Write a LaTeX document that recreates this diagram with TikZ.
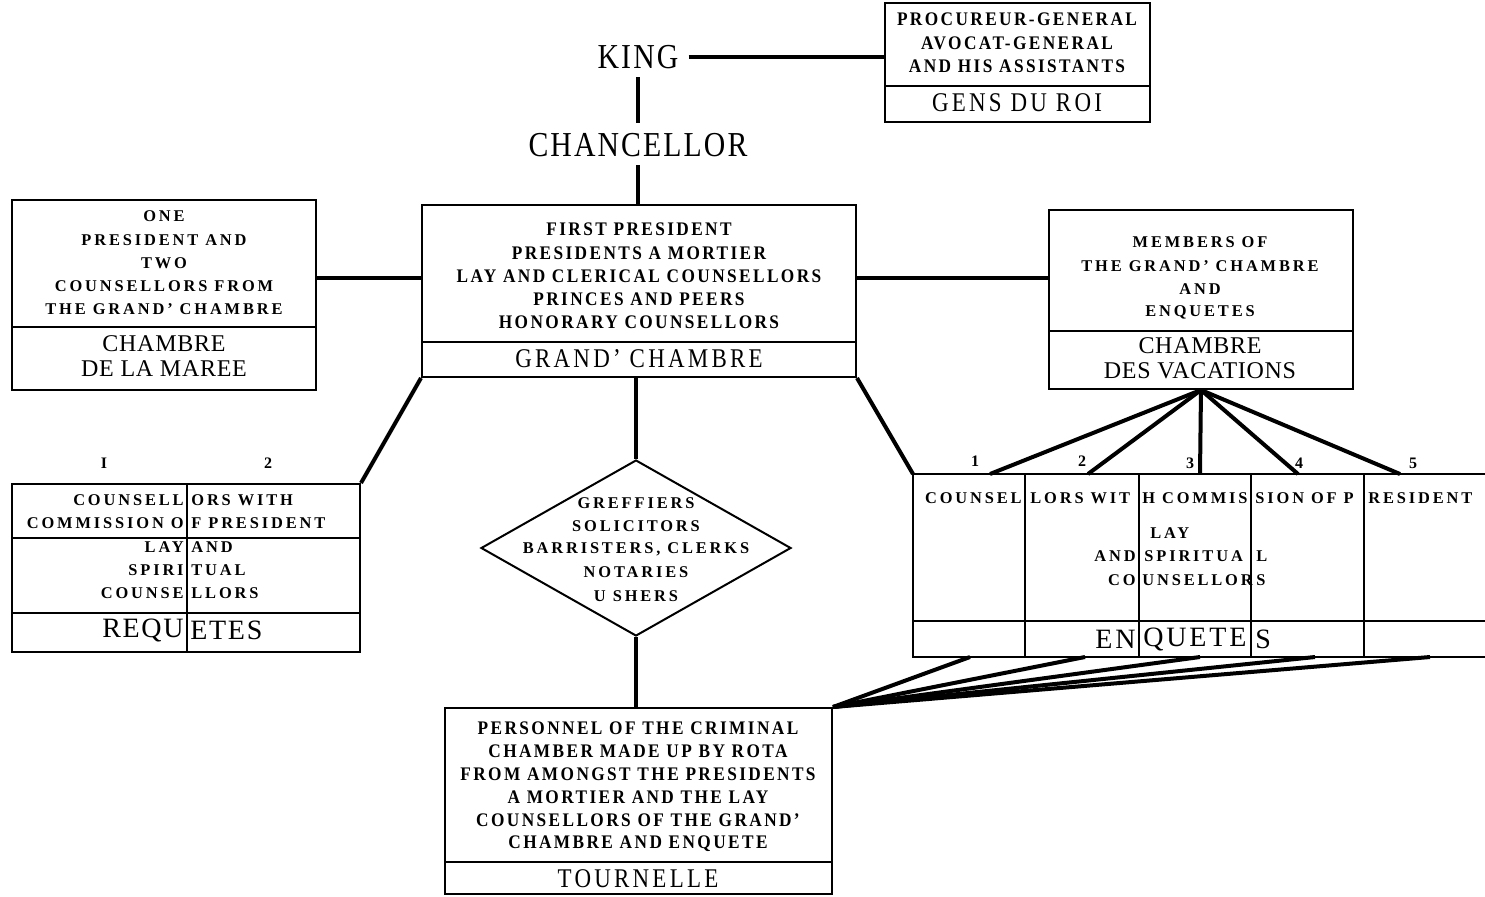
\documentclass[tikz,border=0pt]{standalone}
\usepackage{fontspec}
\setmainfont{Liberation Serif}
\newfontfamily\smf[LetterSpace=17.5]{Liberation Serif}
\newfontfamily\cdf[LetterSpace=12.5,FakeStretch=0.9]{Liberation Serif}
\newfontfamily\bgf[LetterSpace=3]{Liberation Serif}
\newfontfamily\bcf[FakeStretch=0.85,LetterSpace=12]{Liberation Serif}
\newfontfamily\tlf[FakeStretch=0.85,LetterSpace=6]{Liberation Serif}
\newfontfamily\rqf[LetterSpace=6]{Liberation Serif}
\newfontfamily\eqf[LetterSpace=10]{Liberation Serif}
\usetikzlibrary{shapes.geometric,fit}
\begin{document}
\begin{tikzpicture}[x=0.5pt,y=-0.5pt,
  box/.style={draw, line width=1pt, inner sep=0pt},
  divl/.style={line width=1pt},
  conn/.style={line width=2pt},
  sm/.style={inner sep=0pt, font=\smf\bfseries\fontsize{8.2}{9}\selectfont},
  cd/.style={inner sep=0pt, font=\cdf\bfseries\fontsize{9.6}{10}\selectfont},
  big/.style={inner sep=0pt, font=\bgf\fontsize{12}{13}\selectfont},
  bigc/.style={inner sep=0pt, font=\bcf\fontsize{13.5}{14}\selectfont},
  rq/.style={inner sep=0pt, font=\rqf\fontsize{14}{15}\selectfont},
  eq/.style={inner sep=0pt, font=\eqf\fontsize{14}{15}\selectfont},
  ttl/.style={inner sep=0pt, font=\tlf\fontsize{17.5}{18}\selectfont},
  num/.style={inner sep=0pt, font=\bgf\bfseries\fontsize{8}{9}\selectfont},
]
\useasboundingbox (0,0) rectangle (1485,896);

% ---------- King / Chancellor ----------
\node[ttl] (king) at (638,57) {KING};
\node[ttl] (chan) at (638,145) {CHANCELLOR};

% ---------- Gens du roi ----------
\node[box, fit={(885,3) (1150,122)}] (gens) {};
\draw[divl] (885,86) -- (1150,86);
\node[cd] (g1) at (1017,19) {PROCUREUR-GENERAL};
\node[cd] (g2) at (1017,43) {AVOCAT-GENERAL};
\node[cd] (g3) at (1017,66) {AND HIS ASSISTANTS};
\node[bigc] (g4) at (1017,103) {GENS DU ROI};

% ---------- Grand' Chambre ----------
\node[box, fit={(422,205) (856,377)}] (gc) {};
\draw[divl] (422,342) -- (856,342);
\node[cd] (gc1) at (639,229) {FIRST PRESIDENT};
\node[cd] (gc2) at (639,253) {PRESIDENTS A MORTIER};
\node[cd] (gc3) at (639,276) {LAY AND CLERICAL COUNSELLORS};
\node[cd] (gc4) at (639,299) {PRINCES AND PEERS};
\node[cd] (gc5) at (639,322) {HONORARY COUNSELLORS};
\node[bigc] (gc6) at (639,359) {GRAND’ CHAMBRE};

% ---------- Chambre de la Maree ----------
\node[box, fit={(12,200) (316,390)}] (maree) {};
\draw[divl] (12,327) -- (316,327);
\node[sm] (m1) at (164,216) {ONE};
\node[sm] (m2) at (164,240) {PRESIDENT AND};
\node[sm] (m3) at (164,263) {TWO};
\node[sm] (m4) at (164,286) {COUNSELLORS FROM};
\node[sm] (m5) at (164,309) {THE GRAND’ CHAMBRE};
\node[big] (m6) at (164,344) {CHAMBRE};
\node[big] (m7) at (164,369) {DE LA MAREE};

% ---------- Chambre des Vacations ----------
\node[box, fit={(1049,210) (1353,389)}] (vac) {};
\draw[divl] (1049,331) -- (1353,331);
\node[sm] (v1) at (1200,242) {MEMBERS OF};
\node[sm] (v2) at (1200,266) {THE GRAND’ CHAMBRE};
\node[sm] (v3) at (1200,289) {AND};
\node[sm] (v4) at (1200,312) {ENQUETES};
\node[big] (v5) at (1200,346) {CHAMBRE};
\node[big] (v6) at (1200,371) {DES VACATIONS};

% ---------- Diamond ----------
\node[draw, line width=1pt, diamond, inner sep=0pt, minimum width=155pt, minimum height=88pt] (dia) at (636,548) {};
\node[sm] (d1) at (636,503) {GREFFIERS};
\node[sm] (d2) at (636,526) {SOLICITORS};
\node[sm] (d3) at (636,549) {BARRISTERS, CLERKS};
\node[sm] (d4) at (636,572) {NOTARIES};
\node[sm] (d5) at (636,596) {U SHERS};

% ---------- Tournelle ----------
\node[box, fit={(445,708) (832,894)}] (tour) {};
\draw[divl] (445,862) -- (832,862);
\node[cd] (t1) at (638,728) {PERSONNEL OF THE CRIMINAL};
\node[cd] (t2) at (638,751) {CHAMBER MADE UP BY ROTA};
\node[cd] (t3) at (638,774) {FROM AMONGST THE PRESIDENTS};
\node[cd] (t4) at (638,797) {A MORTIER AND THE LAY};
\node[cd] (t5) at (638,820) {COUNSELLORS OF THE GRAND’};
\node[cd] (t6) at (638,844) {CHAMBRE AND ENQUETE};
\node[bigc] (t7) at (638,879) {TOURNELLE};

% ---------- Requetes ----------
\node[box, fit={(12,484) (360,652)}] (req) {};
\draw[divl] (12,538) -- (360,538);
\draw[divl] (12,613) -- (360,613);
\draw[divl] (187,484) -- (187,652);
\node[num] (rn1) at (104,463) {I};
\node[num] (rn2) at (268,463) {2};
\node[sm, anchor=east] (r1a) at (184,500) {COUNSELL};
\node[sm, anchor=west] (r1b) at (191,500) {ORS WITH};
\node[sm, anchor=east] (r2a) at (184,523) {COMMISSION O};
\node[sm, anchor=west] (r2b) at (191,523) {F PRESIDENT};
\node[sm, anchor=east] (r3a) at (184,547) {LAY};
\node[sm, anchor=west] (r3b) at (191,547) {AND};
\node[sm, anchor=east] (r4a) at (184,570) {SPIRI};
\node[sm, anchor=west] (r4b) at (191,570) {TUAL};
\node[sm, anchor=east] (r5a) at (184,593) {COUNSE};
\node[sm, anchor=west] (r5b) at (191,593) {LLORS};
\node[rq, anchor=east] (r6a) at (184,630) {REQU};
\node[rq, anchor=west] (r6b) at (190,630) {ETES};

% ---------- Enquetes ----------
\coordinate (enqNW) at (913,474);
\coordinate (enqSW) at (913,657);
\coordinate (enqNE) at (1485,474);
\coordinate (enqSE) at (1485,657);
\draw[divl] (enqNE) -- (enqNW) -- (enqSW) -- (enqSE);
\draw[divl] (913,621) -- (1485,621);
\foreach \xx in {1025,1139,1251,1364} \draw[divl] (\xx,474) -- (\xx,657);
\node[num] (en1) at (975,461) {1};
\node[num] (en2) at (1082,461) {2};
\node[num] (en3) at (1190,463) {3};
\node[num] (en4) at (1299,463) {4};
\node[num] (en5) at (1413,463) {5};
\node[sm, anchor=east] (e1a) at (1022,498) {COUNSEL};
\node[sm, anchor=west] (e1b) at (1030,498) {LORS WIT};
\node[sm, anchor=west] (e1c) at (1142,498) {H COMMIS};
\node[sm, anchor=west] (e1d) at (1255,498) {SION OF P};
\node[sm, anchor=west] (e1e) at (1368,498) {RESIDENT};
\node[sm, anchor=west] (e2) at (1150,533) {LAY};
\node[sm, anchor=east] (e3a) at (1136,556) {AND};
\node[sm, anchor=west] (e3b) at (1144,556) {SPIRITUA};
\node[sm, anchor=west] (e3c) at (1256,556) {L};
\node[sm, anchor=east] (e4a) at (1136,580) {CO};
\node[sm, anchor=west] (e4b) at (1142,580) {UNSELLOR};
\node[sm, anchor=west] (e4c) at (1256,580) {S};
\node[eq, anchor=east] (e5a) at (1136,639) {EN};
\node[eq, anchor=west] (e5b) at (1143,639) {QUETE};
\node[eq, anchor=west] (e5c) at (1255,639) {S};

% top and bottom attachment points on Enquetes
\coordinate (et1) at (990,474);
\coordinate (et2) at (1088,474);
\coordinate (et3) at (1200,474);
\coordinate (et4) at (1298,474);
\coordinate (et5) at (1400,474);
\coordinate (eb1) at (970,657);
\coordinate (eb2) at (1085,657);
\coordinate (eb3) at (1200,657);
\coordinate (eb4) at (1315,657);
\coordinate (eb5) at (1430,657);

% ---------- Connectors ----------
\draw[conn] ([xshift=5pt]king.east) -- (king.east -| gens.west);
\draw[conn] ([yshift=-4pt]king.south) -- ([yshift=5pt]chan.north);
\draw[conn] ([yshift=-4pt]chan.south) -- (gc.north -| chan.south);
\draw[conn] (maree.east |- 0,278) -- (gc.west |- 0,278);
\draw[conn] (gc.east |- 0,278) -- (vac.west |- 0,278);
\draw[conn] (gc.south -| dia.north) -- (dia.north);
\draw[conn] (dia.south) -- (tour.north -| dia.south);
\draw[conn] (gc.south west) -- (req.north east);
\draw[conn] (gc.south east) -- (enqNW);
\foreach \i in {1,...,5} {
  \draw[conn] (vac.south) -- (et\i);
  \draw[conn] (eb\i) -- (tour.north east);
}
\end{tikzpicture}
\end{document}
